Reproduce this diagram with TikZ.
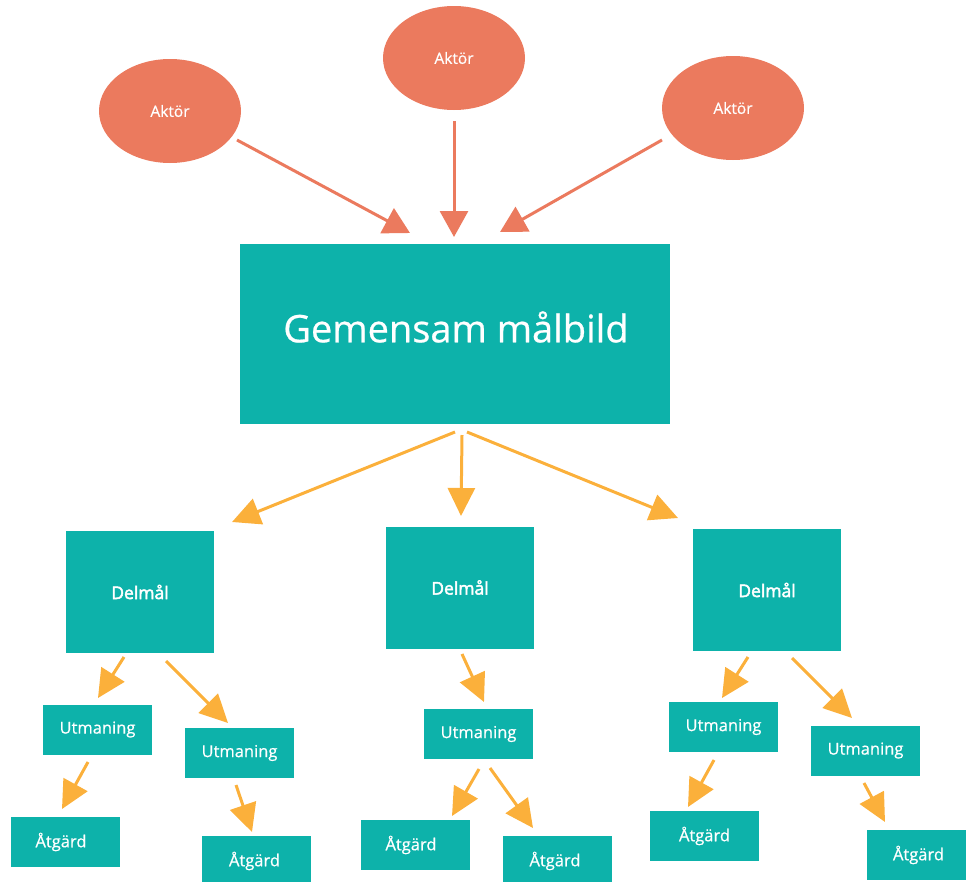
\documentclass[tikz,border=0pt]{standalone}
\usepackage{fontspec}
\setmainfont{Open Sans}[FakeBold=0.6]
\newfontfamily\semifont{Open Sans}[FakeBold=2.6]
\usetikzlibrary{arrows.meta,shapes.geometric}
\definecolor{tealbox}{HTML}{0DB2AA}
\definecolor{coral}{HTML}{EB7A5E}
\definecolor{amber}{HTML}{FBB03B}
\tikzset{
  actor/.style={ellipse, fill=coral, draw=none, minimum width=142pt, minimum height=104pt,
    text=white, font=\fontsize{15.5}{18}\selectfont, inner sep=0pt},
  goalbox/.style={rectangle, fill=tealbox, draw=none, minimum width=430pt, minimum height=180pt,
    text=white, font=\fontsize{38}{44}\selectfont, inner sep=0pt},
  subgoal/.style={rectangle, fill=tealbox, draw=none, minimum width=148pt, minimum height=122pt,
    text=white, font=\fontsize{17.5}{20}\semifont, inner sep=0pt},
  challenge/.style={rectangle, fill=tealbox, draw=none, minimum width=109pt, minimum height=50pt,
    text=white, font=\fontsize{16.5}{20}\selectfont, inner sep=0pt},
  action/.style={challenge},
  coralarrow/.style={draw=coral, line width=3pt, -{Triangle[length=26pt,width=28pt]}},
  amberarrow/.style={draw=amber, line width=3pt, -{Triangle[length=28pt,width=27pt]}},
}
\begin{document}
\begin{tikzpicture}[x=1pt,y=-1pt]
\useasboundingbox (0,0) rectangle (966,881);

% actors
\node[actor] (a1) at (170,111) {Aktör};
\node[actor] (a2) at (454,58) {Aktör};
\node[actor] (a3) at (733,108) {Aktör};

% shared goal
\node[goalbox] (goal) at (455,334) {};
\node[text=white, font=\fontsize{38}{44}\selectfont] (goaltext) at (456,327) {Gemensam målbild};

% sub-goals
\node[subgoal] (d1) at (140,592) {Delmål};
\node[subgoal] (d2) at (460,587.5) {Delmål};
\node[subgoal] (d3) at (767,590) {Delmål};

% challenges
\node[challenge] (u1) at (97.5,729.5) {Utmaning};
\node[challenge] (u2) at (239.5,753) {Utmaning};
\node[challenge] (u3) at (478.5,734) {Utmaning};
\node[challenge] (u4) at (723.5,727) {Utmaning};
\node[challenge] (u5) at (865.5,750.5) {Utmaning};

% actions
\node[action] (x1) at (65.5,842) {\hspace*{-9pt}Åtgärd};
\node[action] (x2) at (256.5,861) {\hspace*{-4pt}Åtgärd};
\node[action] (x3) at (415.5,845) {\hspace*{-9pt}Åtgärd};
\node[action] (x4) at (557,861) {\hspace*{-4pt}Åtgärd};
\node[action] (x5) at (704.5,836) {Åtgärd};
\node[action] (x6) at (921,855) {\hspace*{-5pt}Åtgärd};

% connector end points
\coordinate (a1s) at (237,140);  \coordinate (a1e) at (410,233);
\coordinate (a2s) at (454,121);  \coordinate (a2e) at (454,237);
\coordinate (a3s) at (662,140);  \coordinate (a3e) at (500,232);

\coordinate (g1s) at (455,432);  \coordinate (g1e) at (232,522);
\coordinate (g2s) at (462,435);  \coordinate (g2e) at (461,516);
\coordinate (g3s) at (467,432);  \coordinate (g3e) at (678,518);

\coordinate (d1as) at (124,657); \coordinate (d1ae) at (98,698);
\coordinate (d1bs) at (166,661); \coordinate (d1be) at (228,723);
\coordinate (d2as) at (462,654); \coordinate (d2ae) at (484,702);
\coordinate (d3as) at (748,657); \coordinate (d3ae) at (722,698);
\coordinate (d3bs) at (792,658); \coordinate (d3be) at (852,718);

\coordinate (u1s) at (88,762);   \coordinate (u1e) at (62,809);
\coordinate (u2s) at (236,785);  \coordinate (u2e) at (252,832);
\coordinate (u3as) at (479,769); \coordinate (u3ae) at (452,816);
\coordinate (u3bs) at (490,768); \coordinate (u3be) at (533,828);
\coordinate (u4s) at (714,760);  \coordinate (u4e) at (688,807);
\coordinate (u5s) at (864,783);  \coordinate (u5e) at (885,822);

% actors feed the shared goal
\draw[coralarrow] (a1s) -- (a1e);
\draw[coralarrow] (a2s) -- (a2e);
\draw[coralarrow] (a3s) -- (a3e);

% goal splits into sub-goals
\draw[amberarrow] (g1s) -- (g1e);
\draw[amberarrow] (g2s) -- (g2e);
\draw[amberarrow] (g3s) -- (g3e);

% sub-goals to challenges
\draw[amberarrow] (d1as) -- (d1ae);
\draw[amberarrow] (d1bs) -- (d1be);
\draw[amberarrow] (d2as) -- (d2ae);
\draw[amberarrow] (d3as) -- (d3ae);
\draw[amberarrow] (d3bs) -- (d3be);

% challenges to actions
\draw[amberarrow] (u1s) -- (u1e);
\draw[amberarrow] (u2s) -- (u2e);
\draw[amberarrow] (u3as) -- (u3ae);
\draw[amberarrow] (u3bs) -- (u3be);
\draw[amberarrow] (u4s) -- (u4e);
\draw[amberarrow] (u5s) -- (u5e);
\end{tikzpicture}
\end{document}
